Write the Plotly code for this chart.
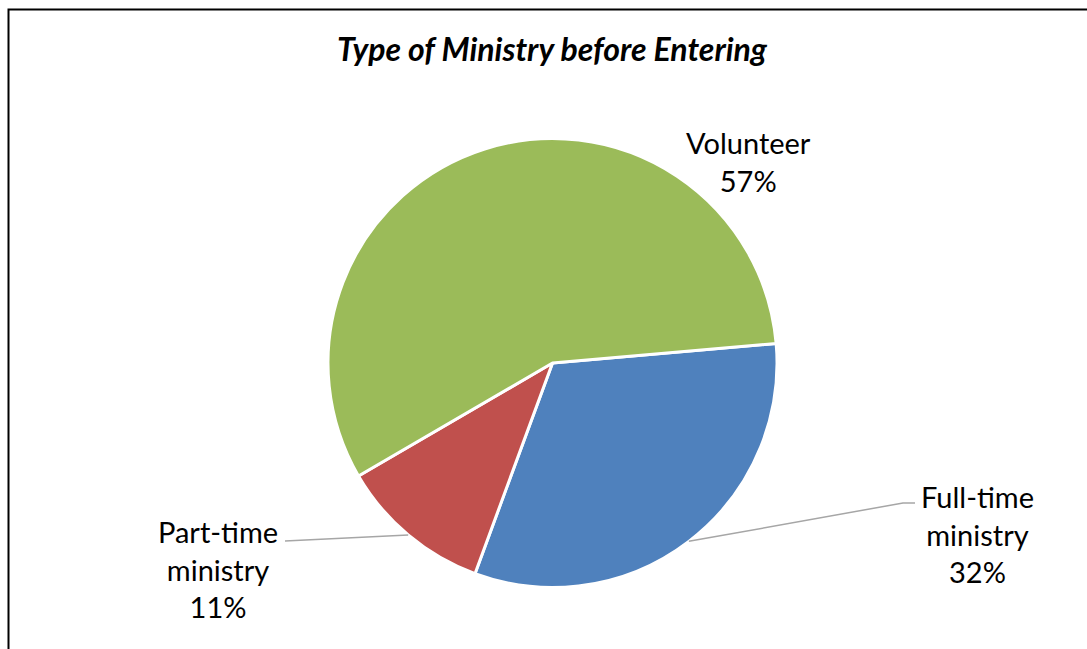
import math
import plotly.graph_objects as go

# Survey shares by type of ministry before entering
categories = ["Full-time ministry", "Part-time ministry", "Volunteer"]
shares = [32, 11, 57]
colors = ["#4F81BD", "#C0504D", "#9BBB59"]

W, H = 1087, 649
FONT = "Lato, 'Open Sans', Arial, sans-serif"

# Pie geometry in pixels
cx, cy, R = 552.5, 363.0, 224.5
rotation = 85  # first slice starts 85 deg clockwise from 12 o'clock


def px(x):
    return x / W


def py(y):
    return 1 - y / H


fig = go.Figure(
    go.Pie(
        labels=categories,
        values=shares,
        sort=False,
        direction="clockwise",
        rotation=rotation,
        marker=dict(colors=colors, line=dict(color="white", width=3)),
        textinfo="none",
        hoverinfo="label+percent",
        domain=dict(x=[px(cx - R), px(cx + R)], y=[py(cy + R), py(cy - R)]),
        showlegend=False,
    )
)

# Label placement per slice: text centre, leader end point (or None)
label_pos = {
    "Volunteer": dict(x=748, y=161, leader=None),
    "Full-time ministry": dict(x=977, y=534, leader=[(903, 503), (915, 503)]),
    "Part-time ministry": dict(x=218, y=569, leader=[(285, 541)]),
}

total = sum(shares)
start = rotation
shapes = []
annotations = []
for cat, val in zip(categories, shares):
    sweep = val / total * 360
    mid = math.radians(start + sweep / 2)
    start += sweep
    ex = cx + R * math.sin(mid)
    ey = cy - R * math.cos(mid)
    pos = label_pos[cat]
    pct = f"{round(val / total * 100)}%"
    text = cat.replace(" ", "<br>") + "<br>" + pct if cat != "Volunteer" else cat + "<br>" + pct
    annotations.append(dict(
        x=px(pos["x"]), y=py(pos["y"]), xref="paper", yref="paper",
        text=text, showarrow=False, xanchor="center", yanchor="middle",
        font=dict(family=FONT, size=29, color="#000000"),
    ))
    if pos["leader"]:
        pts = [(ex, ey)] + pos["leader"]
        path = "M " + " L ".join(f"{px(a)},{py(b)}" for a, b in pts)
        shapes.append(dict(type="path", path=path, xref="paper", yref="paper",
                           line=dict(color="#A6A6A6", width=1.5)))

# Chart-area frame
shapes.append(dict(type="rect", xref="paper", yref="paper",
                   x0=px(8.5), x1=px(W + 20), y0=py(H + 20), y1=py(9.5),
                   line=dict(color="#000000", width=2), fillcolor="rgba(0,0,0,0)"))

fig.update_layout(
    width=W, height=H,
    margin=dict(l=0, r=0, t=0, b=0),
    paper_bgcolor="white",
    plot_bgcolor="white",
    title=dict(
        text="<b><i>Type of Ministry before Entering</i></b>",
        x=px(552), y=py(50), xanchor="center", yanchor="middle",
        font=dict(family=FONT, size=32, color="#000000"),
    ),
    shapes=shapes,
    annotations=annotations,
)

fig.write_html("out.html")
